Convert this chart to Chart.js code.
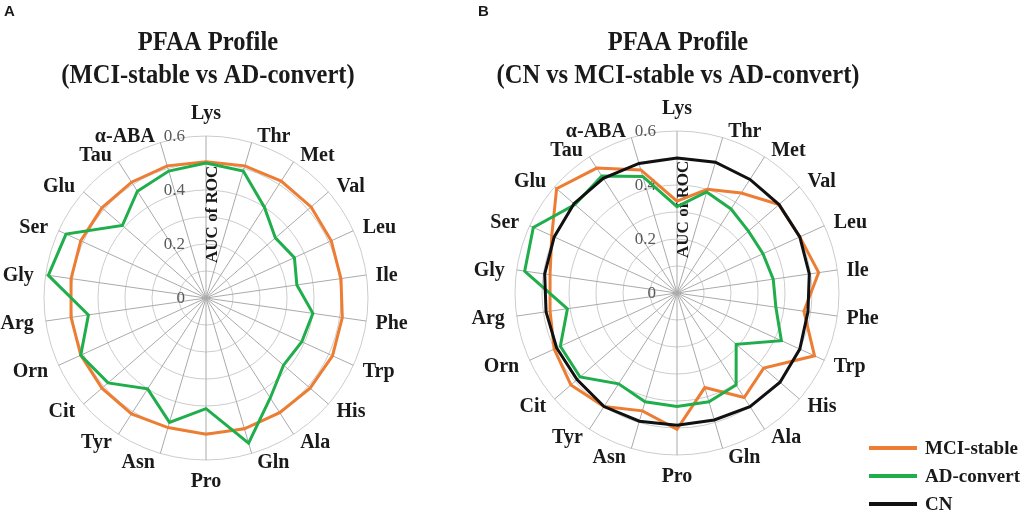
<!DOCTYPE html>
<html>
<head>
<meta charset="utf-8">
<script src="https://cdn.jsdelivr.net/npm/chart.js@4.4.1/dist/chart.umd.min.js"></script>
<style>
  html, body { margin: 0; padding: 0; background: #ffffff; }
  #wrap { position: relative; width: 1024px; height: 512px; overflow: hidden; background: #ffffff; }
  #wrap canvas { position: absolute; left: 0; top: 0; }
</style>
</head>
<body>
<div id="wrap">
  <canvas id="chartA" width="1024" height="512"></canvas>
  <canvas id="chartB" width="1024" height="512"></canvas>
</div>
<script>
// ---------- data ----------
const categories = ['Lys','Thr','Met','Val','Leu','Ile','Phe','Trp','His','Ala','Gln','Pro','Asn','Tyr','Cit','Orn','Arg','Gly','Ser','Glu','Tau','α-ABA'];

// Panel A: MCI-stable vs AD-convert
const mciStableA = [0.505, 0.51, 0.515, 0.515, 0.51, 0.505, 0.51, 0.515, 0.51, 0.505, 0.505, 0.505, 0.50, 0.51, 0.51, 0.51, 0.505, 0.505, 0.51, 0.51, 0.51, 0.51];
const adConvertA = [0.50, 0.49, 0.40, 0.34, 0.36, 0.34, 0.40, 0.39, 0.38, 0.44, 0.56, 0.41, 0.48, 0.40, 0.48, 0.51, 0.44, 0.59, 0.57, 0.41, 0.47, 0.49];

// Panel B: CN vs MCI-stable vs AD-convert
const mciStableB = [0.34, 0.40, 0.44, 0.50, 0.50, 0.53, 0.475, 0.56, 0.425, 0.46, 0.365, 0.505, 0.455, 0.50, 0.52, 0.50, 0.475, 0.475, 0.51, 0.59, 0.55, 0.475];
const adConvertB = [0.32, 0.39, 0.37, 0.35, 0.35, 0.36, 0.37, 0.425, 0.29, 0.405, 0.42, 0.42, 0.42, 0.40, 0.475, 0.475, 0.41, 0.57, 0.585, 0.50, 0.515, 0.45];
const cnB        = [0.50, 0.505, 0.50, 0.50, 0.50, 0.495, 0.49, 0.50, 0.505, 0.50, 0.49, 0.49, 0.495, 0.50, 0.49, 0.49, 0.49, 0.495, 0.50, 0.505, 0.505, 0.50];

const tickValues = [0, 0.2, 0.4, 0.6];
const tickLabels = ['0', '0.2', '0.4', '0.6'];
const axisTitle = 'AUC of ROC';
const seriesNames = ['MCI-stable', 'AD-convert', 'CN'];
const titleA = ['PFAA Profile', '(MCI-stable vs AD-convert)'];
const titleB = ['PFAA Profile', '(CN vs MCI-stable vs AD-convert)'];

// ---------- styles ----------
const ORANGE = '#ec7d33';
const GREEN = '#1fae4b';
const BLACK = '#111111';
const SERIF = '"Liberation Serif", "Times New Roman", serif';

function decorPlugin(opts) {
  return {
    id: 'decor' + opts.letter,
    beforeDatasetsDraw(chart) {
      const ctx = chart.ctx;
      const sc = chart.scales.r;
      ctx.save();
      // tick labels, left of the vertical axis (under the series lines)
      ctx.font = '17px ' + SERIF;
      ctx.fillStyle = '#5a5a5a';
      ctx.textAlign = 'right';
      ctx.textBaseline = 'middle';
      tickValues.forEach((v, i) => {
        const d = sc.getDistanceFromCenterForValue(v);
        ctx.fillText(tickLabels[i], sc.xCenter - 21, sc.yCenter - d + 1);
      });
      // axis title, rotated
      const dT = sc.getDistanceFromCenterForValue(0.31);
      ctx.translate(sc.xCenter + 7, sc.yCenter - dT);
      ctx.rotate(-Math.PI / 2);
      ctx.font = 'bold 17px ' + SERIF;
      ctx.fillStyle = '#1a1a1a';
      ctx.textAlign = 'center';
      ctx.textBaseline = 'middle';
      ctx.fillText(axisTitle, 0, 0);
      ctx.restore();
    },
    afterDatasetsDraw(chart) {
      const ctx = chart.ctx;
      const sc = chart.scales.r;
      const R = sc.drawingArea;
      ctx.save();
      // point labels: box corner just outside the outer ring
      ctx.font = 'bold 20px ' + SERIF;
      ctx.fillStyle = '#1a1a1a';
      ctx.textAlign = 'center';
      ctx.textBaseline = 'middle';
      const h = 15;
      chart.data.labels.forEach((lab, i) => {
        const w = ctx.measureText(lab).width;
        const a = sc.getIndexAngle(i);
        const s = Math.sin(a), c = Math.cos(a);
        const phi = Math.asin(Math.min(1, Math.abs(s))) * 180 / Math.PI;
        const top = phi < 1;
        const g = top ? (c > 0 ? 15 : 14) : 1 + 10 * Math.pow(phi / 90, 1.5);
        const p = sc.getPointPosition(i, R + g);
        const t = Math.max(-1, Math.min(1, s * 5));
        const extra = 5 - (t > 0 ? 8 : 4) * Math.pow(phi / 90, 4);
        const x = p.x + (w / 2 + extra) * t;
        const y = p.y - (h / 2) * c + (!top && c > 0 ? 3 : 0);
        ctx.fillText(lab, x, y);
      });
      // titles
      ctx.font = 'bold 27px ' + SERIF;
      ctx.textAlign = 'center';
      ctx.textBaseline = 'alphabetic';
      opts.title.forEach((t, k) => {
        ctx.save();
        ctx.translate(opts.titleX, k === 0 ? 50 : 83);
        ctx.scale(0.91, 1);
        ctx.fillText(t, 0, 0);
        ctx.restore();
      });
      // panel letter
      ctx.font = 'bold 15px "Liberation Sans", Arial, sans-serif';
      ctx.textAlign = 'left';
      ctx.textBaseline = 'middle';
      ctx.fillText(opts.letter, opts.letterX, 12);
      // legend
      if (opts.legend) {
        const items = [
          { name: seriesNames[0], color: ORANGE, y: 448 },
          { name: seriesNames[1], color: GREEN, y: 476 },
          { name: seriesNames[2], color: BLACK, y: 504 }
        ];
        ctx.font = 'bold 19px ' + SERIF;
        ctx.textAlign = 'left';
        ctx.textBaseline = 'middle';
        items.forEach(it => {
          ctx.strokeStyle = it.color;
          ctx.lineWidth = 4;
          ctx.beginPath();
          ctx.moveTo(869, it.y);
          ctx.lineTo(917, it.y);
          ctx.stroke();
          ctx.fillStyle = '#1a1a1a';
          ctx.fillText(it.name, 925, it.y + 1);
        });
      }
      ctx.restore();
    }
  };
}

function radarScale() {
  return {
    r: {
      min: 0,
      max: 0.6,
      ticks: { stepSize: 0.1, display: false },
      grid: { circular: true, color: '#cccccc', lineWidth: 1 },
      angleLines: { display: true, color: '#aaaaaa', lineWidth: 1 },
      pointLabels: { display: false }
    }
  };
}

function ds(label, data, color, order) {
  return {
    label: label,
    data: data,
    borderColor: color,
    backgroundColor: color,
    borderWidth: 3,
    fill: false,
    tension: 0,
    pointRadius: 0,
    pointHoverRadius: 0,
    order: order
  };
}

new Chart(document.getElementById('chartA'), {
  type: 'radar',
  data: {
    labels: categories,
    datasets: [
      ds(seriesNames[0], mciStableA, ORANGE, 2),
      ds(seriesNames[1], adConvertA, GREEN, 1)
    ]
  },
  options: {
    responsive: false,
    animation: false,
    devicePixelRatio: 1,
    layout: { padding: { left: 44, right: 656, top: 136, bottom: 52 } },
    plugins: { legend: { display: false }, tooltip: { enabled: false }, title: { display: false } },
    scales: radarScale()
  },
  plugins: [decorPlugin({ letter: 'A', letterX: 4, title: titleA, titleX: 208, legend: false })]
});

new Chart(document.getElementById('chartB'), {
  type: 'radar',
  data: {
    labels: categories,
    datasets: [
      ds(seriesNames[0], mciStableB, ORANGE, 2),
      ds(seriesNames[1], adConvertB, GREEN, 1),
      ds(seriesNames[2], cnB, BLACK, 0)
    ]
  },
  options: {
    responsive: false,
    animation: false,
    devicePixelRatio: 1,
    layout: { padding: { left: 515, right: 185, top: 131, bottom: 57 } },
    plugins: { legend: { display: false }, tooltip: { enabled: false }, title: { display: false } },
    scales: radarScale()
  },
  plugins: [decorPlugin({ letter: 'B', letterX: 478, title: titleB, titleX: 678, legend: true })]
});
</script>
</body>
</html>
